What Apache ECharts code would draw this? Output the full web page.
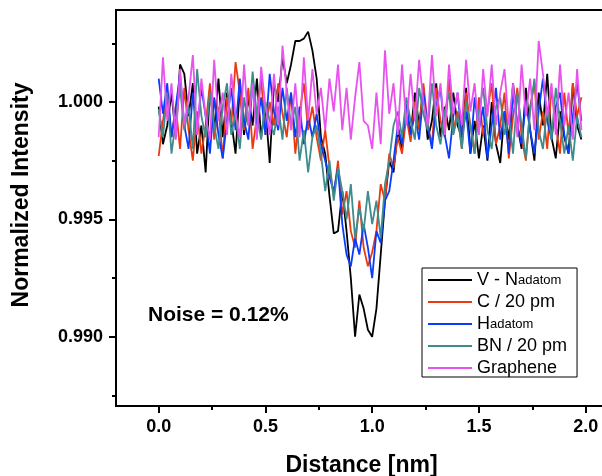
<!DOCTYPE html>
<html>
<head>
<meta charset="utf-8">
<script src="https://cdn.jsdelivr.net/npm/echarts@6/dist/echarts.min.js"></script>
<style>html,body{margin:0;padding:0;background:#fff}#c{width:602px;height:476px}</style>
</head>
<body>
<div id="c"></div>
<script>
// sample positions along the line profile (nm), step 0.02
const distance = Array.from({length: 100}, (_, i) => +(i * 0.02).toFixed(2));

const seriesNames = ['V - Nadatom', 'C / 20 pm', 'Hadatom', 'BN / 20 pm', 'Graphene'];

const vN = [0.9998,0.9982,0.9990,1.0004,0.9985,1.0016,1.0012,0.9994,1.0008,0.9978,
 0.9990,0.9970,1.0006,0.9988,1.0010,0.9985,1.0004,0.9992,0.9978,1.0006,
 0.9986,1.0002,0.9990,1.0010,0.9985,0.9998,0.9974,1.0008,1.0000,1.0019,
 1.0008,1.0016,1.0026,1.0026,1.0027,1.0030,1.0022,1.0010,0.9985,0.9978,
 0.9960,0.9944,0.9945,0.9962,0.9945,0.9925,0.9900,0.9918,0.9912,0.9903,
 0.9900,0.9912,0.9935,0.9958,0.9975,0.9970,0.9988,0.9980,0.9998,0.9986,
 1.0004,0.9990,1.0006,0.9984,0.9992,1.0008,0.9985,0.9998,0.9988,1.0004,
 0.9990,0.9985,1.0006,0.9978,0.9992,0.9976,0.9990,0.9975,1.0000,0.9982,
 0.9974,0.9996,0.9984,1.0008,0.9990,0.9980,1.0006,0.9988,0.9975,1.0004,
 0.9990,1.0012,0.9985,0.9976,0.9996,0.9985,0.9978,1.0008,0.9990,0.9984];

const c20 = [0.9977,0.9992,1.0004,0.9985,0.9998,0.9980,1.0006,0.9988,0.9975,0.9996,
 0.9978,0.9990,1.0008,0.9984,0.9998,0.9976,1.0002,0.9990,1.0017,1.0004,
 0.9988,1.0006,0.9980,0.9994,1.0010,0.9986,1.0000,0.9990,1.0008,0.9995,
 0.9985,1.0004,0.9978,0.9995,1.0008,0.9988,0.9998,0.9985,0.9975,0.9988,
 0.9972,0.9960,0.9975,0.9952,0.9962,0.9945,0.9938,0.9958,0.9938,0.9930,
 0.9936,0.9945,0.9965,0.9958,0.9978,0.9972,0.9985,0.9978,0.9994,0.9983,
 1.0000,0.9988,1.0008,0.9990,0.9982,1.0006,0.9992,0.9985,1.0010,0.9988,
 0.9996,0.9980,1.0004,0.9990,0.9978,1.0002,0.9986,0.9996,1.0008,0.9982,
 0.9990,1.0004,0.9976,0.9994,1.0006,0.9985,0.9975,0.9998,1.0008,0.9984,
 0.9996,0.9980,1.0006,0.9990,0.9978,1.0004,0.9986,1.0008,0.9994,1.0002];

const hAd = [1.0010,0.9995,1.0008,0.9985,0.9998,1.0012,0.9990,0.9980,1.0004,0.9988,
 1.0006,0.9994,0.9978,1.0002,0.9986,0.9976,0.9992,1.0006,0.9988,1.0010,
 0.9992,0.9984,1.0008,0.9990,1.0002,0.9986,1.0012,0.9996,0.9988,1.0006,
 0.9992,1.0004,0.9985,0.9998,0.9982,0.9994,0.9985,0.9995,0.9982,0.9975,
 0.9968,0.9962,0.9972,0.9948,0.9935,0.9930,0.9942,0.9935,0.9948,0.9938,
 0.9925,0.9945,0.9940,0.9958,0.9962,0.9975,0.9990,0.9982,1.0000,0.9986,
 0.9995,0.9984,1.0004,0.9990,0.9980,0.9998,1.0006,0.9986,0.9976,0.9994,
 1.0004,0.9985,0.9996,0.9978,1.0002,0.9988,0.9998,0.9976,0.9990,1.0006,
 0.9984,0.9996,0.9978,1.0004,0.9990,0.9982,1.0000,0.9988,0.9978,0.9996,
 1.0010,0.9992,0.9984,0.9998,1.0004,0.9986,0.9978,0.9994,1.0008,0.9992];

const bn20 = [0.9997,0.9985,1.0004,0.9978,0.9992,1.0006,0.9988,0.9998,0.9980,1.0014,
 0.9994,0.9985,1.0004,0.9990,0.9980,0.9998,1.0008,0.9986,0.9995,0.9980,
 1.0002,0.9990,1.0013,0.9994,0.9984,1.0000,0.9992,0.9986,0.9998,0.9984,
 1.0006,0.9990,0.9998,0.9975,0.9988,0.9970,0.9985,0.9990,0.9978,0.9962,
 0.9975,0.9958,0.9972,0.9962,0.9950,0.9965,0.9942,0.9955,0.9945,0.9962,
 0.9948,0.9958,0.9942,0.9965,0.9975,0.9990,0.9996,0.9985,1.0002,0.9992,
 0.9984,1.0006,0.9995,0.9988,1.0008,0.9990,0.9982,0.9996,1.0004,0.9986,
 0.9994,0.9980,1.0000,0.9990,0.9978,0.9996,1.0006,0.9988,0.9980,0.9998,
 1.0002,0.9986,0.9994,0.9978,1.0004,0.9990,0.9976,0.9996,1.0010,0.9988,
 0.9980,0.9998,0.9984,1.0006,0.9992,0.9978,0.9990,0.9975,0.9994,0.9985];

const graphene = [0.9985,1.0019,0.9992,1.0008,0.9984,1.0014,0.9990,1.0002,1.0020,0.9986,
 1.0010,0.9994,0.9984,1.0018,0.9992,1.0004,0.9986,1.0012,0.9995,0.9985,
 1.0016,0.9990,1.0008,0.9984,1.0015,0.9998,0.9986,1.0012,0.9990,1.0024,
 1.0004,0.9988,1.0008,0.9985,1.0019,0.9992,1.0014,0.9995,1.0006,0.9988,
 1.0010,0.9996,1.0016,0.9988,1.0006,0.9984,1.0002,1.0017,0.9992,0.9990,
 0.9980,1.0004,0.9982,1.0022,0.9995,1.0008,0.9986,1.0016,0.9990,1.0012,
 0.9992,1.0018,1.0000,0.9990,1.0020,0.9994,1.0008,0.9986,1.0016,0.9995,
 1.0004,0.9990,1.0018,0.9996,1.0008,0.9986,1.0014,0.9994,1.0016,0.9990,
 1.0004,1.0014,0.9990,1.0008,0.9985,1.0016,0.9994,1.0010,0.9988,1.0026,
 1.0012,0.9994,1.0008,0.9986,1.0016,0.9990,1.0004,0.9984,1.0014,0.9988];

const xMajorTicks = [0, 0.5, 1.0, 1.5, 2.0];
const xMinorTicks = [0.25, 0.75, 1.25, 1.75];
const yMajorTicks = [0.990, 0.995, 1.000];
const yMinorTicks = [0.9875, 0.9925, 0.9975, 1.0025];

const colors = ['#000000', '#ec3a10', '#0a3cff', '#3f8c8c', '#e852ee'];
const allValues = [vN, c20, hAd, bn20, graphene];

const FONT = '"Liberation Sans", Arial, sans-serif';
const chart = echarts.init(document.getElementById('c'), null, {renderer: 'canvas'});

const legendRich = {
  b: {fontSize: 18, fontFamily: FONT, color: '#000', lineHeight: 20},
  s: {fontSize: 13, fontFamily: FONT, color: '#000', lineHeight: 20}
};
function legendFmt(name) {
  if (name === 'V - Nadatom') return '{b|V - N}{s|adatom}';
  if (name === 'Hadatom') return '{b|H}{s|adatom}';
  return '{b|' + name + '}';
}

const yMin = 0.98705, yMax = 1.00392;
const xMin = -0.2, xMax = 2.1;

const baseAxisLine = {show: true, onZero: false, lineStyle: {color: '#000', width: 2}};

chart.setOption({
  animation: false,
  backgroundColor: '#fff',
  grid: {left: 116, top: 10, width: 491, height: 396, show: true, borderColor: '#000', borderWidth: 2,
         backgroundColor: 'transparent', outerBoundsMode: 'none', containLabel: false},
  xAxis: [{
    type: 'value', min: xMin, max: xMax, position: 'bottom',
    axisLine: baseAxisLine,
    splitLine: {show: false},
    axisTick: {show: true, customValues: xMajorTicks, length: 7, lineStyle: {color: '#000', width: 2}},
    axisLabel: {customValues: xMajorTicks, formatter: v => v.toFixed(1), fontSize: 18, fontWeight: 'bold', fontFamily: FONT, color: '#000', margin: 12},
    name: 'Distance [nm]', nameLocation: 'middle', nameGap: 48,
    nameTextStyle: {fontSize: 23, fontWeight: 'bold', fontFamily: FONT, color: '#000'}
  }, {
    type: 'value', min: xMin, max: xMax, position: 'bottom',
    axisLine: {show: false, onZero: false}, splitLine: {show: false},
    axisTick: {show: true, customValues: xMinorTicks, length: 4, lineStyle: {color: '#000', width: 2}},
    axisLabel: {show: false}
  }],
  yAxis: [{
    type: 'value', min: yMin, max: yMax, position: 'left',
    axisLine: baseAxisLine,
    splitLine: {show: false},
    axisTick: {show: true, customValues: yMajorTicks, length: 7, lineStyle: {color: '#000', width: 2}},
    axisLabel: {customValues: yMajorTicks, formatter: v => v.toFixed(3), fontSize: 18, fontWeight: 'bold', fontFamily: FONT, color: '#000', margin: 13},
    name: 'Normalized Intensity', nameLocation: 'middle', nameGap: 83,
    nameTextStyle: {fontSize: 23, fontWeight: 'bold', fontFamily: FONT, color: '#000', padding: [0, 0, 0, 26]}
  }, {
    type: 'value', min: yMin, max: yMax, position: 'left',
    axisLine: {show: false, onZero: false}, splitLine: {show: false},
    axisTick: {show: true, customValues: yMinorTicks, length: 4, lineStyle: {color: '#000', width: 2}},
    axisLabel: {show: false}
  }],
  legend: {
    orient: 'vertical', left: 422, top: 268,
    padding: [3, 10, 0, 6],
    icon: 'rect', itemWidth: 44, itemHeight: 2, itemGap: 4,
    borderColor: '#000', borderWidth: 1, borderRadius: 0, backgroundColor: '#fff',
    data: seriesNames,
    formatter: legendFmt,
    textStyle: {rich: legendRich, color: '#000'}
  },
  graphic: [{
    type: 'text', left: 148, top: 305,
    style: {text: 'Noise = 0.12%', fontSize: 21, fontWeight: 'bold', fontFamily: FONT, fill: '#000'}
  }],
  series: seriesNames.map((name, k) => ({
    name: name, type: 'line', xAxisIndex: 0, yAxisIndex: 0,
    symbol: 'none', clip: true,
    lineStyle: {color: colors[k], width: 1.8},
    itemStyle: {color: colors[k]},
    data: distance.map((x, i) => [x, allValues[k][i]])
  }))
});
</script>
</body>
</html>
